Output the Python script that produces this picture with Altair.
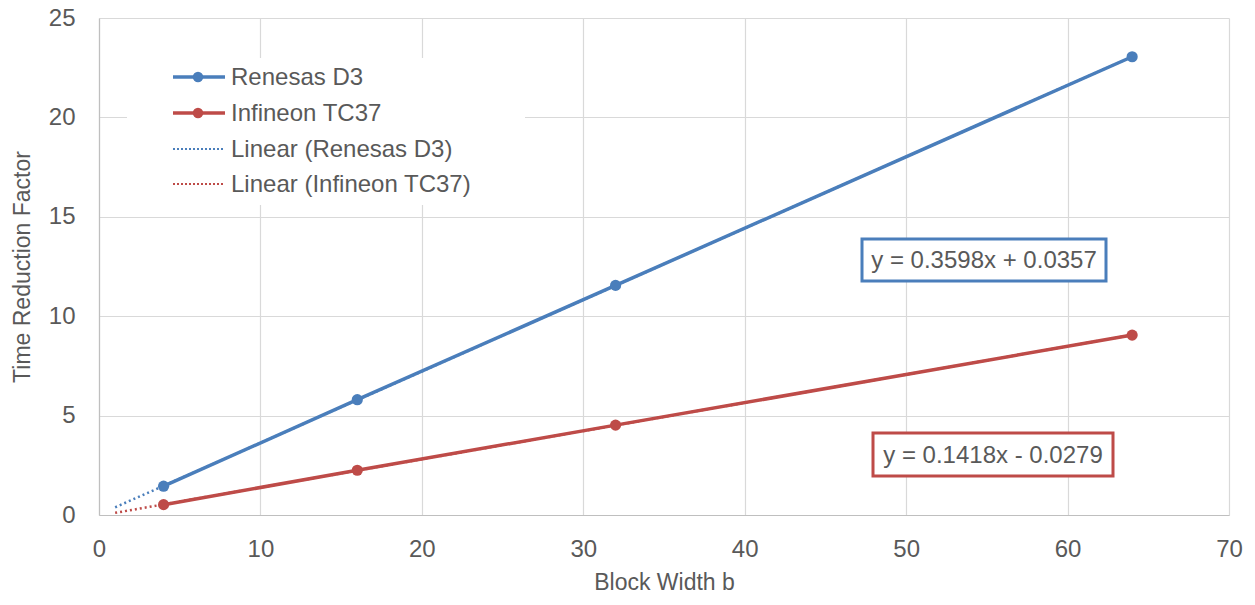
import altair as alt
import pandas as pd

# Data
block_width = [4, 16, 32, 64]
renesas_d3 = [1.45, 5.8, 11.55, 23.05]
infineon_tc37 = [0.52, 2.25, 4.52, 9.05]

series_names = ["Renesas D3", "Infineon TC37"]
series_colors = ["#4A7EBB", "#BE4B48"]
equations = ["y = 0.3598x + 0.0357", "y = 0.1418x - 0.0279"]
trend_extent = [1, 64]

FONT = "Liberation Sans"
TXT = "#595959"

df = pd.DataFrame({
    "b": block_width * 2,
    "factor": renesas_d3 + infineon_tc37,
    "series": [series_names[0]] * 4 + [series_names[1]] * 4,
})

W, H = 1130, 497

xs = alt.Scale(domain=[0, 70], nice=False)
ys = alt.Scale(domain=[0, 25], nice=False)
col = alt.Scale(domain=series_names, range=series_colors)

base = alt.Chart(df)

x_enc = alt.X("b:Q", scale=xs, title="Block Width b",
              axis=alt.Axis(values=list(range(0, 71, 10)), grid=True))
y_enc = alt.Y("factor:Q", scale=ys, title="Time Reduction Factor",
              axis=alt.Axis(values=list(range(0, 26, 5)), grid=True))

trend = base.transform_regression(
    "b", "factor", groupby=["series"], extent=trend_extent
).mark_line(strokeDash=[2, 3], strokeWidth=2.5, strokeCap="butt").encode(
    x=alt.X("b:Q", scale=xs), y=alt.Y("factor:Q", scale=ys),
    color=alt.Color("series:N", scale=col, legend=None),
)

lines = base.mark_line(strokeWidth=3.5).encode(
    x=x_enc, y=y_enc,
    color=alt.Color("series:N", scale=col, legend=None),
)
points = base.mark_circle(size=125, opacity=1).encode(
    x=alt.X("b:Q", scale=xs), y=alt.Y("factor:Q", scale=ys),
    color=alt.Color("series:N", scale=col, legend=None),
)

# Manual legend (Excel style)
dummy = alt.Chart(pd.DataFrame({"d": [0]}))
leg_layers = [
    dummy.mark_rect(fill="white").encode(
        x=alt.value(28), x2=alt.value(426), y=alt.value(40), y2=alt.value(187))
]
rows = [59, 95, 131, 166]
labels = ["Renesas D3", "Infineon TC37", "Linear (Renesas D3)", "Linear (Infineon TC37)"]
for i, (ry, lab) in enumerate(zip(rows, labels)):
    c = series_colors[i % 2]
    if i < 2:
        leg_layers.append(dummy.mark_rule(strokeWidth=3.5, color=c).encode(
            x=alt.value(74), x2=alt.value(126), y=alt.value(ry)))
        leg_layers.append(dummy.mark_circle(size=110, opacity=1, color=c).encode(
            x=alt.value(99), y=alt.value(ry)))
    else:
        leg_layers.append(dummy.mark_rule(strokeWidth=2, color=c, strokeDash=[2, 2]).encode(
            x=alt.value(74), x2=alt.value(124), y=alt.value(ry)))
    leg_layers.append(dummy.mark_text(
        align="left", baseline="middle", font=FONT, fontSize=24, color=TXT
    ).encode(x=alt.value(132), y=alt.value(ry + 1), text=alt.value(lab)))

# Equation boxes
boxes = [(763, 1007, 221, 263), (774, 1014, 415, 458)]
eq_layers = []
for (x1, x2, y1, y2), c, eq in zip(boxes, series_colors, equations):
    eq_layers.append(dummy.mark_rect(fill="white", stroke=c, strokeWidth=3).encode(
        x=alt.value(x1), x2=alt.value(x2), y=alt.value(y1), y2=alt.value(y2)))
    eq_layers.append(dummy.mark_text(
        align="center", baseline="middle", font=FONT, fontSize=24, color=TXT
    ).encode(x=alt.value((x1 + x2) / 2), y=alt.value((y1 + y2) / 2 + 1), text=alt.value(eq)))

chart = alt.layer(trend, lines, points, *leg_layers, *eq_layers).properties(
    width=W, height=H,
    background="white",
    autosize=alt.AutoSizeParams(type="none"),
    padding={"left": 99, "top": 18, "right": 26, "bottom": 90},
).configure_view(stroke=None).configure_axis(
    gridColor="#D9D9D9", gridWidth=1.2,
    domainColor="#BFBFBF", domainWidth=1.2,
    ticks=False, labelFlush=False, labelOverlap=False,
    labelFont=FONT, labelFontSize=24, labelColor=TXT,
    titleFont=FONT, titleFontSize=23, titleColor=TXT, titleFontWeight="normal",
).configure_axisX(labelPadding=22, titlePadding=10).configure_axisY(
    labelPadding=24, titlePadding=14
)

chart.save("out.html", embed_options={"renderer": "svg", "actions": False})
